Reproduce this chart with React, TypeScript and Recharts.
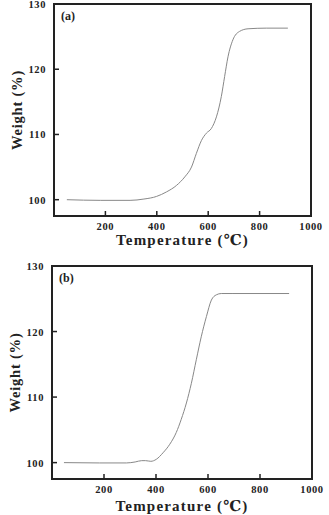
import React from 'react';
import { LineChart, Line, XAxis, YAxis, ReferenceArea, Label } from 'recharts';

// TGA curve (a)
const tempA = [50, 180, 296, 350, 399, 438, 477, 509, 535, 554, 574, 593, 612, 632, 651, 664, 677, 696, 722, 755, 826, 910];
const weightA = [100, 99.9, 99.9, 100.1, 100.5, 101.2, 102.2, 103.5, 105, 107.1, 109.1, 110.2, 110.9, 112.7, 115.8, 118.9, 121.9, 124.5, 125.8, 126.2, 126.3, 126.3];

// TGA curve (b)
const tempB = [46, 183, 286, 320, 345, 360, 380, 401, 427, 453, 478, 497, 517, 536, 555, 574, 594, 613, 632, 651, 696, 912];
const weightB = [100, 99.95, 99.95, 100.1, 100.3, 100.3, 100.2, 100.5, 101.5, 102.8, 104.6, 106.6, 109.1, 112.1, 115.7, 119.2, 122.3, 124.8, 125.6, 125.8, 125.8, 125.8];

const tempTicks = [200, 400, 600, 800, 1000];
const weightTicks = [100, 110, 120, 130];

const FONT = '"Liberation Serif", "Times New Roman", "DejaVu Serif", serif';
const INK = '#222';

const toRows = (t: number[], w: number[]) => t.map((temp, i) => ({ temp, weight: w[i] }));

// inward tick marks with the label outside the frame
const BottomTick = (props: any) => {
  const { x, y, payload } = props;
  const last = payload.value === 1000;
  return (
    <g>
      {!last && <line x1={x} y1={y} x2={x} y2={y - 5} stroke={INK} strokeWidth={1.5} />}
      <text x={x} y={y + 14} textAnchor="middle" fontFamily={FONT} fontWeight="bold" fontSize={10.5} letterSpacing={0.6} fill={INK}>
        {payload.value}
      </text>
    </g>
  );
};

const LeftTick = (props: any) => {
  const { x, y, payload } = props;
  const top = payload.value === 130;
  return (
    <g>
      {!top && <line x1={x} y1={y} x2={x + 5} y2={y} stroke={INK} strokeWidth={1.5} />}
      <text x={x - 8} y={y + 4} textAnchor="end" fontFamily={FONT} fontWeight="bold" fontSize={10.5} letterSpacing={0.6} fill={INK}>
        {payload.value}
      </text>
    </g>
  );
};

type PanelProps = {
  rows: { temp: number; weight: number }[];
  tag: string;
  height: number;
  margin: { top: number; right: number; bottom: number; left: number };
  yWidth: number;
  xHeight: number;
  titleGap: number;
  yTitleX: number;
};

const Panel = ({ rows, tag, height, margin, yWidth, xHeight, titleGap, yTitleX }: PanelProps) => (
  <LineChart width={329} height={height} data={rows} margin={margin}>
    <XAxis
      dataKey="temp"
      type="number"
      domain={[0, 1000]}
      ticks={tempTicks}
      axisLine={false}
      tickLine={false}
      tickSize={0}
      tickMargin={0}
      tick={<BottomTick />}
      height={xHeight}
      interval={0}
    >
      <Label
        content={({ viewBox }: any) => (
          <text
            x={viewBox.x + viewBox.width / 2}
            y={viewBox.y + titleGap}
            textAnchor="middle"
            fontFamily={FONT}
            fontWeight="bold"
            fontSize={15}
            letterSpacing={1.2}
            fill={INK}
          >
            Temperature (℃)
          </text>
        )}
      />
    </XAxis>
    <YAxis
      type="number"
      domain={[97.5, 130]}
      ticks={weightTicks}
      axisLine={false}
      tickLine={false}
      tickSize={0}
      tickMargin={0}
      tick={<LeftTick />}
      width={yWidth}
      interval={0}
    >
      <Label
        content={({ viewBox }: any) => {
          const cy = viewBox.y + viewBox.height / 2;
          return (
            <text
              x={yTitleX}
              y={cy}
              transform={`rotate(-90 ${yTitleX} ${cy})`}
              textAnchor="middle"
              fontFamily={FONT}
              fontWeight="bold"
              fontSize={14.5}
              letterSpacing={0.8}
              fill={INK}
            >
              Weight (%)
            </text>
          );
        }}
      />
    </YAxis>
    <ReferenceArea x1={0} x2={1000} y1={97.5} y2={130} fill="none" stroke={INK} strokeWidth={2} ifOverflow="visible">
      <Label
        value={tag}
        position="insideTopLeft"
        offset={7}
        style={{ fontFamily: FONT, fontWeight: 'bold', fontSize: 12, fill: INK }}
      />
    </ReferenceArea>
    <Line
      dataKey="weight"
      type="monotone"
      stroke="#888"
      strokeWidth={1}
      dot={false}
      isAnimationActive={false}
    />
  </LineChart>
);

export default function App() {
  return (
    <div style={{ position: 'absolute', left: 0, top: 0, width: 329, height: 515, background: '#fff' }}>
      <Panel
        rows={toRows(tempA, weightA)}
        tag="(a)"
        height={250}
        margin={{ top: 4, right: 18, bottom: 0, left: 0 }}
        yWidth={54}
        xHeight={34}
        titleGap={29}
        yTitleX={22}
      />
      <Panel
        rows={toRows(tempB, weightB)}
        tag="(b)"
        height={265}
        margin={{ top: 16, right: 17, bottom: 0, left: 0 }}
        yWidth={52}
        xHeight={36}
        titleGap={32}
        yTitleX={20}
      />
    </div>
  );
}
